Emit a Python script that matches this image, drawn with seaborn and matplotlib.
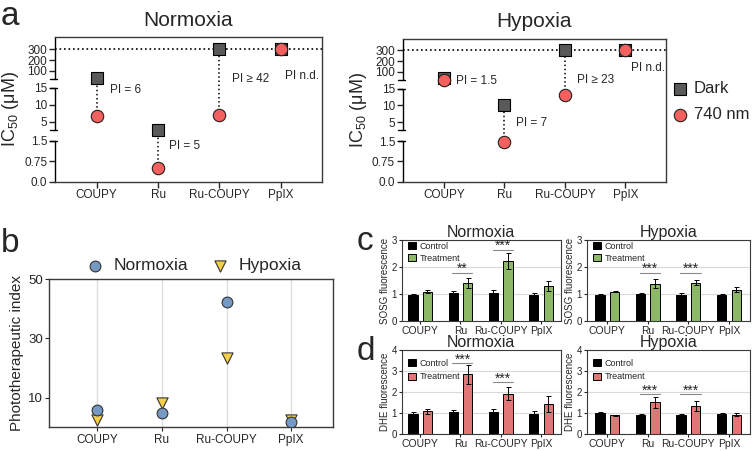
import numpy as np
import pandas as pd
import matplotlib
matplotlib.use("Agg")
import matplotlib.pyplot as plt
import matplotlib.transforms as mtransforms
import seaborn as sns

# Dati
compounds = ["COUPY", "Ru", "Ru-COUPY", "PpIX"]

# a) IC50 (uM), buio / 740 nm
ic50_norm_dark = [38, 2.6, 300, 300]
ic50_norm_light = [6.7, 0.51, 7.0, 300]
ic50_hyp_dark = [38, 10, 300, 300]
ic50_hyp_light = [25, 1.45, 13, 300]
pi_text_norm = ["PI = 6", "PI = 5", "PI ≥ 42", "PI n.d."]
pi_text_hyp = ["PI = 1.5", "PI = 7", "PI ≥ 23", "PI n.d."]

# b) indice fototerapeutico
pi_norm = [6.0, 4.9, 42.2, 1.9]
pi_hyp = [2.4, 8.3, 23.4, 2.3]

# c) SOSG
sosg_norm_ctrl = [0.97, 1.03, 1.03, 0.98]
sosg_norm_trt = [1.10, 1.42, 2.22, 1.31]
sosg_norm_ctrl_err = [0.05, 0.10, 0.12, 0.05]
sosg_norm_trt_err = [0.07, 0.20, 0.30, 0.18]
sosg_hyp_ctrl = [0.98, 1.02, 0.98, 0.98]
sosg_hyp_trt = [1.10, 1.40, 1.43, 1.17]
sosg_hyp_ctrl_err = [0.02, 0.04, 0.05, 0.03]
sosg_hyp_trt_err = [0.03, 0.18, 0.10, 0.10]

# d) DHE
dhe_norm_ctrl = [0.97, 1.08, 1.05, 0.95]
dhe_norm_trt = [1.10, 2.85, 1.93, 1.45]
dhe_norm_ctrl_err = [0.10, 0.10, 0.15, 0.15]
dhe_norm_trt_err = [0.12, 0.45, 0.32, 0.38]
dhe_hyp_ctrl = [1.03, 0.92, 0.93, 0.98]
dhe_hyp_trt = [0.90, 1.52, 1.35, 0.93]
dhe_hyp_ctrl_err = [0.03, 0.07, 0.05, 0.03]
dhe_hyp_trt_err = [0.03, 0.25, 0.25, 0.07]

W, H = 756, 451

sns.set_style("ticks")
plt.rcParams["font.family"] = ["Liberation Sans", "DejaVu Sans"]
plt.rcParams["axes.linewidth"] = 1.0

fig = plt.figure(figsize=(W / 100, H / 100), dpi=100)


def box(l, t, r, b):
    return [l / W, 1 - b / H, (r - l) / W, (b - t) / H]


# asse y spezzato: 0-1.5 / 2.5-15 / 25-410
seg_data = [0, 1.5, 2.5, 15, 25, 410]
seg_disp = [0, 41, 51.7, 93.7, 102.7, 144.4]


def fwd(y):
    return np.interp(y, seg_data, seg_disp)


def inv(y):
    return np.interp(y, seg_disp, seg_data)


def draw_ic50(ax, dark, light, texts, text_pos, title, legend=False):
    ax.set_yscale("function", functions=(fwd, inv))
    x = np.arange(len(compounds))
    ax.axhline(300, color="black", ls=(0, (1, 1.7)), lw=1.2, zorder=1)
    ax.vlines(x, light, dark, colors="black", linestyles=(0, (1, 1.7)), lw=1.1, zorder=2)
    sns.scatterplot(x=x, y=dark, marker="s", s=75, color="#595959", edgecolor="black",
                    linewidth=0.8, zorder=3, ax=ax, label="Dark" if legend else None)
    sns.scatterplot(x=x, y=light, marker="o", s=80, color="#f4605f", edgecolor="#222222",
                    linewidth=0.8, zorder=4, ax=ax, label="740 nm" if legend else None)
    for i, (t, (dx, ty)) in enumerate(zip(texts, text_pos)):
        ax.text(i + dx, ty, t, fontsize=8.5, ha="left", va="center")
    ax.set_xlim(-0.68, 3.67)
    ax.set_ylim(0, 410)
    ax.set_xticks(x, compounds)
    ax.set_yticks([0, 0.75, 1.5, 5, 10, 15, 100, 200, 300],
                  ["0.0", "0.75", "1.5", "5", "10", "15", "100", "200", "300"])
    ax.tick_params(axis="both", direction="out", length=4, width=1, labelsize=8.5, pad=1.5)
    ax.set_xlabel("")
    ax.set_ylabel("IC$\\mathregular{_{50}}$ (μM)", fontsize=13, labelpad=2)
    ax.set_title(title, fontsize=15, pad=8)
    for sp in ["top", "right", "bottom"]:
        ax.spines[sp].set_color("#3a3a3a")
    ax.spines["left"].set_visible(False)
    tr = mtransforms.blended_transform_factory(ax.transAxes, ax.transData)
    for lo, hi in [(0, 1.5), (2.5, 15), (25, 410)]:
        ax.plot([0, 0], [lo, hi], color="black", lw=1, transform=tr, clip_on=False)
    for yb in [1.5, 2.5, 15, 25]:
        ax.plot([-0.018, 0.008], [yb, yb], color="black", lw=1, transform=tr, clip_on=False)
    if legend:
        ax.legend(loc="center left", bbox_to_anchor=(1.02, 0.56), frameon=False, fontsize=12,
                  handlelength=1.0, handletextpad=0.35, labelspacing=0.65, borderaxespad=0,
                  borderpad=0)
    elif ax.get_legend() is not None:
        ax.get_legend().remove()


ax_a1 = fig.add_axes(box(55, 37.3, 322, 181.7))
ax_a2 = fig.add_axes(box(402.7, 38.5, 666, 181.7))
draw_ic50(ax_a1, ic50_norm_dark, ic50_norm_light, pi_text_norm,
          [(0.22, 14.4), (0.18, 1.32), (0.21, 24.5), (0.07, 53)], "Normoxia")
draw_ic50(ax_a2, ic50_hyp_dark, ic50_hyp_light, pi_text_hyp,
          [(0.20, 24), (0.185, 4.7), (0.20, 24.5), (0.09, 138)], "Hypoxia", legend=True)

# b) indice fototerapeutico
ax_b = fig.add_axes(box(49, 279, 333, 427.3))
xb = np.arange(len(compounds))
sns.scatterplot(x=xb, y=pi_hyp, marker="v", s=65, color="#f4cf4c", edgecolor="#333333",
                linewidth=0.8, zorder=3, label="Hypoxia", ax=ax_b)
sns.scatterplot(x=xb, y=pi_norm, marker="o", s=60, color="#7599c2", edgecolor="#333333",
                linewidth=0.8, zorder=4, label="Normoxia", ax=ax_b)
hb, lb = ax_b.get_legend_handles_labels()
ax_b.legend([hb[1], hb[0]], [lb[1], lb[0]], loc="lower center", bbox_to_anchor=(0.51, 1.04),
            ncol=2, frameon=False, fontsize=12.5, handlelength=1.0, handletextpad=0.6,
            columnspacing=1.3, borderaxespad=0, borderpad=0)
ax_b.set_xlim(-0.75, 3.65)
ax_b.set_ylim(0, 50)
ax_b.set_xticks(xb, compounds)
ax_b.set_yticks([10, 30, 50])
ax_b.grid(axis="x", color="#dedede", lw=1)
ax_b.set_axisbelow(True)
ax_b.tick_params(axis="x", direction="out", length=3, labelsize=8.5, pad=1.5)
ax_b.tick_params(axis="y", direction="out", length=3, labelsize=9.5, pad=1.5)
ax_b.set_ylabel("Phototherapeutic index", fontsize=11, labelpad=3)
for sp in ax_b.spines.values():
    sp.set_color("#3a3a3a")


def draw_bars(ax, ctrl, trt, ctrl_err, trt_err, color, ymax, ylabel, title, stars, xlim,
              leg_y, leg_sp):
    df = pd.DataFrame({"compound": compounds * 2,
                       "group": ["Control"] * 4 + ["Treatment"] * 4,
                       "value": ctrl + trt})
    sns.barplot(data=df, x="compound", y="value", hue="group",
                palette={"Control": "black", "Treatment": color}, width=0.72, gap=0.36,
                edgecolor="black", linewidth=0.7, errorbar=None, ax=ax)
    for cont, err in zip(ax.containers, [ctrl_err, trt_err]):
        xs = [b.get_x() + b.get_width() / 2 for b in cont]
        ys = [b.get_height() for b in cont]
        ax.errorbar(xs, ys, yerr=err, fmt="none", ecolor="black", elinewidth=0.7,
                    capsize=1.8, capthick=0.7, zorder=4)
    # linee di significativita'
    for i, ys, s in stars:
        ax.plot([i - 0.2, i + 0.3], [ys, ys], color="#8a8a8a", lw=0.8)
        ax.annotate(s, (i + 0.05, ys), xytext=(0, -0.3), textcoords="offset points",
                    ha="center", va="baseline", fontsize=10)
    ax.set_ylim(0, ymax)
    ax.set_xlim(*xlim)
    ax.set_yticks(range(ymax + 1))
    ax.yaxis.grid(True, color="#d9d9d9", lw=0.8)
    ax.set_axisbelow(True)
    ax.tick_params(axis="x", direction="out", length=2.5, labelsize=7.5, pad=1)
    ax.tick_params(axis="y", direction="out", length=2.5, labelsize=7, pad=1)
    ax.set_xlabel("")
    ax.set_ylabel(ylabel, fontsize=7, labelpad=1.5)
    ax.set_title(title, fontsize=11.5, pad=2)
    for sp in ax.spines.values():
        sp.set_color("#3a3a3a")
        sp.set_linewidth(0.8)
    ax.legend(loc="upper left", bbox_to_anchor=(0.03, leg_y), frameon=False, fontsize=6.5,
              handlelength=0.9, handleheight=0.85, handletextpad=0.4, labelspacing=leg_sp,
              borderaxespad=0, borderpad=0.1)


green = "#8cc65a"
red = "#f26464"

ax_c1 = fig.add_axes(box(402, 240.3, 560.7, 321.3))
ax_c2 = fig.add_axes(box(587, 240.3, 750, 321.3))
ax_d1 = fig.add_axes(box(402, 350.3, 560.7, 434.3))
ax_d2 = fig.add_axes(box(587, 350.3, 750, 434.3))

draw_bars(ax_c1, sosg_norm_ctrl, sosg_norm_trt, sosg_norm_ctrl_err, sosg_norm_trt_err, green, 3,
          "SOSG fluorescence", "Normoxia", [(1, 1.8, "**"), (2, 2.65, "***")], (-0.45, 3.49),
          0.99, 0.3)
draw_bars(ax_c2, sosg_hyp_ctrl, sosg_hyp_trt, sosg_hyp_ctrl_err, sosg_hyp_trt_err, green, 3,
          "SOSG fluorescence", "Hypoxia", [(1, 1.8, "***"), (2, 1.8, "***")], (-0.5, 3.52),
          0.99, 0.3)
draw_bars(ax_d1, dhe_norm_ctrl, dhe_norm_trt, dhe_norm_ctrl_err, dhe_norm_trt_err, red, 4,
          "DHE fluorescence", "Normoxia", [(1, 3.38, "***"), (2, 2.48, "***")], (-0.45, 3.49),
          0.91, 0.5)
draw_bars(ax_d2, dhe_hyp_ctrl, dhe_hyp_trt, dhe_hyp_ctrl_err, dhe_hyp_trt_err, red, 4,
          "DHE fluorescence", "Hypoxia", [(1, 1.92, "***"), (2, 1.92, "***")], (-0.5, 3.52),
          0.91, 0.5)

# lettere dei pannelli
for lab, px, py in [("a", 1, 25), ("b", 1, 252), ("c", 357, 250), ("d", 357, 360)]:
    fig.text(px / W, 1 - py / H, lab, fontsize=24, ha="left", va="baseline")

fig.savefig("out.png", dpi=100)
